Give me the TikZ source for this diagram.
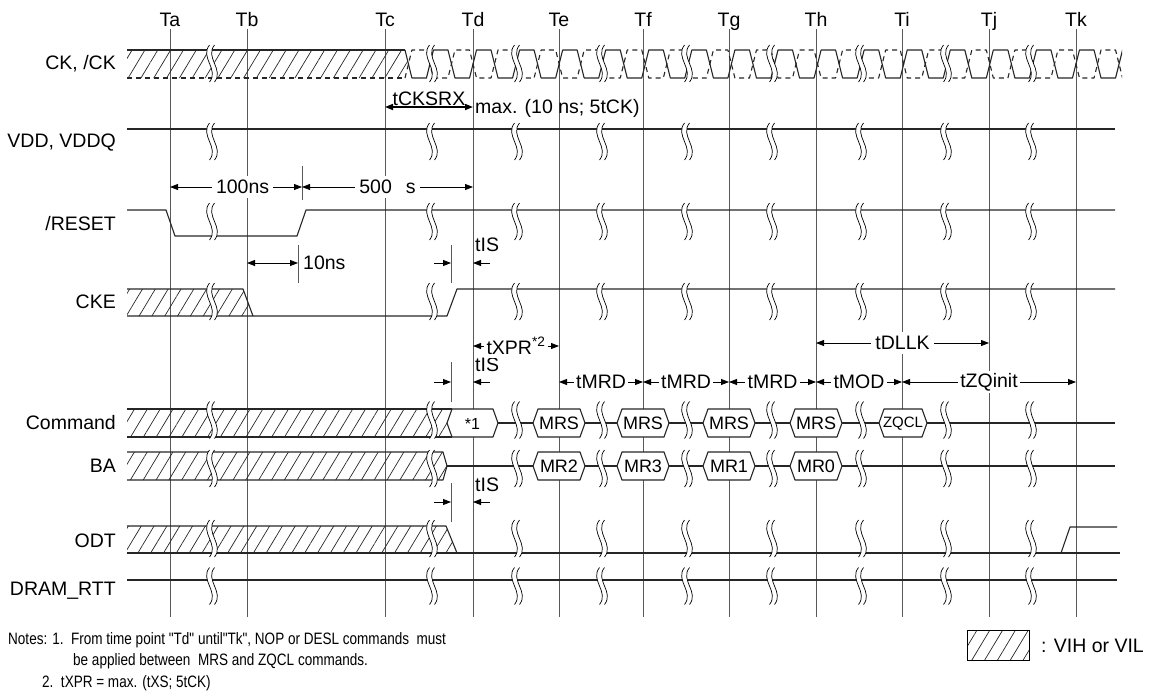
\documentclass[tikz,border=0pt]{standalone}
\usepackage{fontspec}
\setmainfont{Liberation Sans}
\newfontfamily\notefont[FakeStretch=0.82]{Liberation Sans}
\usetikzlibrary{arrows.meta, calc, patterns.meta}

\tikzset{
  sig/.style={line width=1.1pt, black!85, line join=round},
  ckdash/.style={sig, dash pattern=on 5pt off 4pt},
  tline/.style={line width=0.8pt, black!65},
  dim/.style={line width=0.8pt, {Triangle[length=8pt,width=6pt]}-{Triangle[length=8pt,width=6pt]}},
  tip/.style={line width=0.8pt, -{Triangle[length=8pt,width=6pt]}},
  lbl/.style={font=\fontsize{19.5}{21}\selectfont, inner sep=1pt},
  boxlbl/.style={font=\fontsize{18}{20}\selectfont, inner sep=0pt},
  lblw/.style={lbl, fill=white, inner sep=4pt},
  notelbl/.style={font={\notefont\fontsize{16.5}{18}\selectfont}, inner sep=0pt},
  hatch/.style={pattern={Lines[angle=59,distance=11pt,line width=0.7pt]}, pattern color=black!85},
  brk/.pic={
    \fill[white] (-2.5,-18.5) .. controls (-12.5,-6) and (7.5,6) .. (-2.5,18.5)
      -- (2.5,18.5) .. controls (12.5,6) and (-7.5,-6) .. (2.5,-18.5) -- cycle;
    \draw[line width=0.7pt] (-2.5,-18.5) .. controls (-12.5,-6) and (7.5,6) .. (-2.5,18.5);
    \draw[line width=0.7pt] (2.5,-18.5) .. controls (-7.5,-6) and (12.5,6) .. (2.5,18.5);
  }
}

\begin{document}
\begin{tikzpicture}[x=1pt, y=-1pt]
  \useasboundingbox (0,0) rectangle (1151,697);

  % time points
  \foreach \n/\x in {a/170, b/247, c/385, d/473, e/559, f/643, g/729, h/816, i/902, j/989, k/1076}{
    \coordinate (T\n) at (\x,29);
    \draw[tline] (T\n) -- (\x,617);
    \node[lbl, anchor=base] (lab\n) at (\x,26) {T\n};
  }

  % signal names
  \node[lbl, anchor=east] (nCK)   at (117,64)  {CK, /CK};
  \node[lbl, anchor=east] (nVDD)  at (117,143) {VDD, VDDQ};
  \node[lbl, anchor=east] (nRST)  at (117,224) {/RESET};
  \node[lbl, anchor=east] (nCKE)  at (117,302) {CKE};
  \node[lbl, anchor=east] (nCMD)  at (117,423) {Command};
  \node[lbl, anchor=east] (nBA)   at (117,466) {BA};
  \node[lbl, anchor=east] (nODT)  at (117,541) {ODT};
  \node[lbl, anchor=east] (nRTT)  at (117,591) {DRAM\_RTT};

  % CK, /CK
  \fill[hatch] (127,50) -- (405,50) -- (408.5,64) -- (405,78) -- (127,78) -- cycle;
  \draw[sig] (127,50) -- (405,50);
  \draw[ckdash] (127,78) -- (405,78);
  \begin{scope}
    \clip (120,40) rectangle (1122,90);
    \draw[sig] (405,50) foreach \k in {-1,0,...,15}{
      -- ({473+43.07*(\k-0.5)+3.5},78) -- ({473+43.07*\k-3.5},78)
      -- ({473+43.07*\k+3.5},50) -- ({473+43.07*(\k+0.5)-3.5},50) };
    \draw[ckdash] (405,78) foreach \k in {-1,0,...,15}{
      -- ({473+43.07*(\k-0.5)+3.5},50) -- ({473+43.07*\k-3.5},50)
      -- ({473+43.07*\k+3.5},78) -- ({473+43.07*(\k+0.5)-3.5},78) };
  \end{scope}

  % VDD
  \draw[sig] (127,129) -- (1115,129);

  % /RESET
  \draw[sig] (127,210) -- (166,210) -- (175,236) -- (297,236) -- (306,210) -- (1115,210);

  % CKE
  \fill[hatch] (127,289) -- (243,289) -- (253,316) -- (127,316) -- cycle;
  \draw[sig] (127,289) -- (243,289) -- (253,316);
  \draw[sig] (127,316) -- (447,316) -- (457,289) -- (1115,289);

  % Command
  \fill[hatch] (127,409) -- (452,409) -- (447,423) -- (452,437) -- (127,437) -- cycle;
  \draw[sig] (127,409) -- (452,409);
  \draw[sig] (127,437) -- (452,437);
  \draw[sig] (498,423) -- (1115,423);
  \filldraw[sig, fill=white] (447,423) -- (452,409) -- (493,409) -- (498,423) -- (493,437) -- (452,437) -- cycle;
  \node[boxlbl, font=\fontsize{16}{18}\selectfont] (cmd1) at (472.5,424) {*1};

  % BA
  \fill[hatch] (127,452) -- (443,452) -- (447,466) -- (443,480) -- (127,480) -- cycle;
  \draw[sig] (127,452) -- (443,452) -- (447,466) -- (443,480) -- (127,480);
  \draw[sig] (447,466) -- (1115,466);

  % command / bank boxes
  \foreach \c/\y/\t in {559/423/MRS, 643/423/MRS, 729/423/MRS, 816/423/MRS,
                        559/466/MR2, 643/466/MR3, 729/466/MR1, 816/466/MR0}{
    \filldraw[sig, fill=white] ({\c-26},\y) -- ({\c-21},{\y-14}) -- ({\c+21},{\y-14})
      -- ({\c+26},\y) -- ({\c+21},{\y+14}) -- ({\c-21},{\y+14}) -- cycle;
    \node[boxlbl] at (\c,\y) {\t};
  }
  \filldraw[sig, fill=white] (879,423) -- (884,409) -- (922,409) -- (927,423) -- (922,437) -- (884,437) -- cycle;
  \node[boxlbl, font=\fontsize{15}{17}\selectfont] (zqcl) at (903,424) {ZQCL};

  % ODT
  \fill[hatch] (127,526) -- (446,526) -- (457,553) -- (127,553) -- cycle;
  \draw[sig] (127,526) -- (446,526) -- (457,553);
  \draw[sig] (127,553) -- (1120,553);
  \draw[sig] (1061,553) -- (1070,527) -- (1117,527);

  % DRAM_RTT
  \draw[sig] (127,580) -- (1117,580);

  % breaks
  \foreach \yb in {63.5,141.5,221.5,301.5,420,468.5,538.5,586}
    \foreach \xb in {212,432,517,602,687,772,861,946,1031}
      \pic at (\xb,\yb) {brk};

  % timing
  \draw[dim, line width=1.6pt] (Tc |- 0,107) -- node[lbl, above, inner sep=1pt] (ckx) {tCKSRX} (Td |- 0,107);
  \node[lbl, anchor=west] (ckmax) at (474,108) {max. (10 ns; 5tCK)};

  \draw[tline] (302,166) -- (302,200);
  \draw[dim] (Ta |- 0,187) -- node[lblw, pos=0.55] (t100) {100ns} (302,187);
  \draw[dim] (302,187) -- node[lblw] (t500) {500\hspace{0.72em}s} (Td |- 0,187);

  \draw[tline] (298,245) -- (298,283);
  \draw[dim] (Tb |- 0,263) -- (298,263);
  \node[lbl, anchor=west] (t10) at (302,263) {10ns};

  \foreach \ya/\yl/\yt/\yb in {263/245/245/283, 382/365/362/402, 502/485/483/522}{
    \draw[tline] (451,\yt) -- (451,\yb);
    \draw[tip] (434,\ya) -- (451,\ya);
    \draw[tip] (490,\ya) -- (Td |- 0,\ya);
    \node[lbl, anchor=west] at (474,\yl) {tIS};
  }

  \draw[dim] (Td |- 0,346) -- node[lblw, inner sep=3pt] (txpr) {tXPR\textsuperscript{*2}} (Te |- 0,346);
  \draw[dim] (Th |- 0,343) -- node[lblw] (tdllk) {tDLLK} (Tj |- 0,343);
  \foreach \a/\b/\t in {Te/Tf/tMRD, Tf/Tg/tMRD, Tg/Th/tMRD, Th/Ti/tMOD, Ti/Tk/tZQinit}
    \draw[dim] (\a |- 0,382) -- node[lblw, inner sep=2.5pt] {\t} (\b |- 0,382);

  % legend
  \draw[hatch, line width=0.8pt] (967,630) rectangle (1029,660);
  \node[lbl, anchor=west] (leg) at (1040,646) {: VIH or VIL};

  % notes
  \node[notelbl, anchor=west] (note1) at (8,640) {Notes: 1.\ \ From time point "Td" until"Tk", NOP or DESL commands\ \ must};
  \node[notelbl, anchor=west] (note2) at (73,661) {be applied between\ \ MRS and ZQCL commands.};
  \node[notelbl, anchor=west] (note3) at (42,683) {2.\ \ tXPR = max. (tXS; 5tCK)};
\end{tikzpicture}
\end{document}
